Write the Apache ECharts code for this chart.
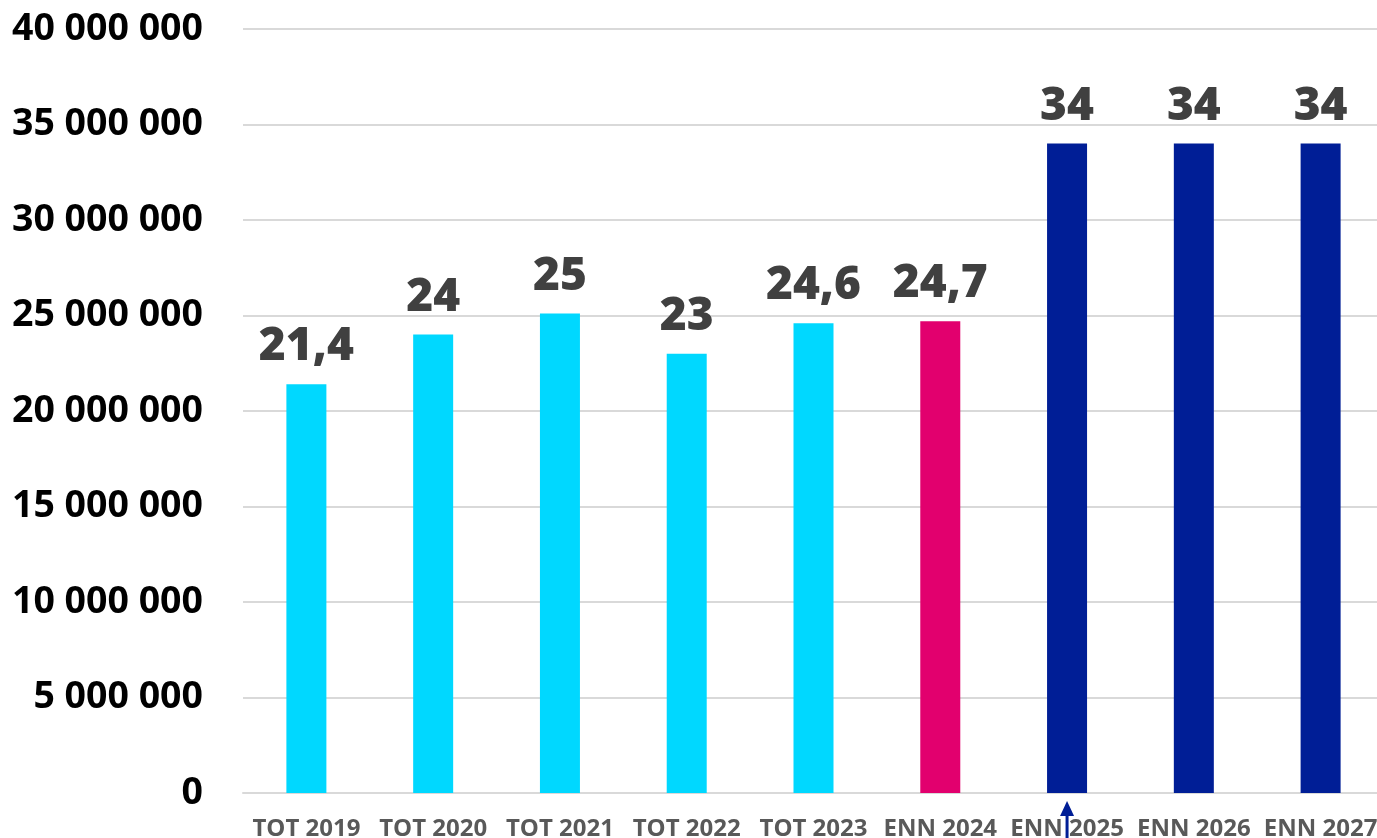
<!DOCTYPE html>
<html>
<head>
<meta charset="utf-8">
<script src="https://cdn.jsdelivr.net/npm/echarts@6/dist/echarts.min.js"></script>
<style>html,body{margin:0;padding:0;background:#fff}#c{width:1377px;height:838px}</style>
</head>
<body>
<div id="c"></div>
<script>
const categories = ['TOT 2019','TOT 2020','TOT 2021','TOT 2022','TOT 2023','ENN 2024','ENN 2025','ENN 2026','ENN 2027'];
const values = [21400000, 24000000, 25100000, 23000000, 24600000, 24700000, 34000000, 34000000, 34000000];
const valueLabels = ['21,4','24','25','23','24,6','24,7','34','34','34'];
const barColors = ['#00D8FF','#00D8FF','#00D8FF','#00D8FF','#00D8FF','#E2006E','#001E96','#001E96','#001E96'];
const yTicks = [0, 5000000, 10000000, 15000000, 20000000, 25000000, 30000000, 35000000, 40000000];

const chart = echarts.init(document.getElementById('c'));
const fmt = v => String(Math.round(v)).replace(/\B(?=(\d{3})+(?!\d))/g, ' ');
chart.setOption({
  animation: false,
  grid: { left: 243, width: 1141, top: 29, bottom: 45, containLabel: false, outerBoundsMode: 'none' },
  xAxis: {
    type: 'category',
    data: categories,
    axisTick: { show: false },
    axisLine: { lineStyle: { color: '#D9D9D9', width: 2 } },
    axisLabel: { color: '#595959', fontFamily: 'Open Sans', fontWeight: 'bold', fontSize: 24, margin: 24, interval: 0 }
  },
  yAxis: {
    type: 'value',
    min: yTicks[0], max: yTicks[yTicks.length - 1], interval: 5000000,
    axisLine: { show: false }, axisTick: { show: false },
    splitLine: { lineStyle: { color: '#D9D9D9', width: 2 } },
    axisLabel: { color: '#000', fontFamily: 'Open Sans', fontWeight: 'bold', fontSize: 37.5, margin: 40, formatter: fmt }
  },
  series: [{
    type: 'bar',
    barWidth: 40,
    data: values.map((v, i) => ({ value: v, itemStyle: { color: barColors[i] } })),
    label: {
      show: true, position: 'top', distance: 14,
      color: '#404040', fontFamily: 'Open Sans', fontWeight: 900, fontSize: 46,
      formatter: p => valueLabels[p.dataIndex]
    }
  }]
});
const ax = chart.convertToPixel({ xAxisIndex: 0 }, 'ENN 2025');
const y0 = chart.convertToPixel({ yAxisIndex: 0 }, 0);
chart.setOption({
  graphic: [
    { type: 'rect', shape: { x: ax - 1.5, y: y0 + 22, width: 3, height: 60 }, style: { fill: '#001E96' } },
    { type: 'polygon', shape: { points: [[ax, y0 + 8], [ax - 7, y0 + 23], [ax + 7, y0 + 23]] }, style: { fill: '#001E96' } }
  ]
});
</script>
</body>
</html>
